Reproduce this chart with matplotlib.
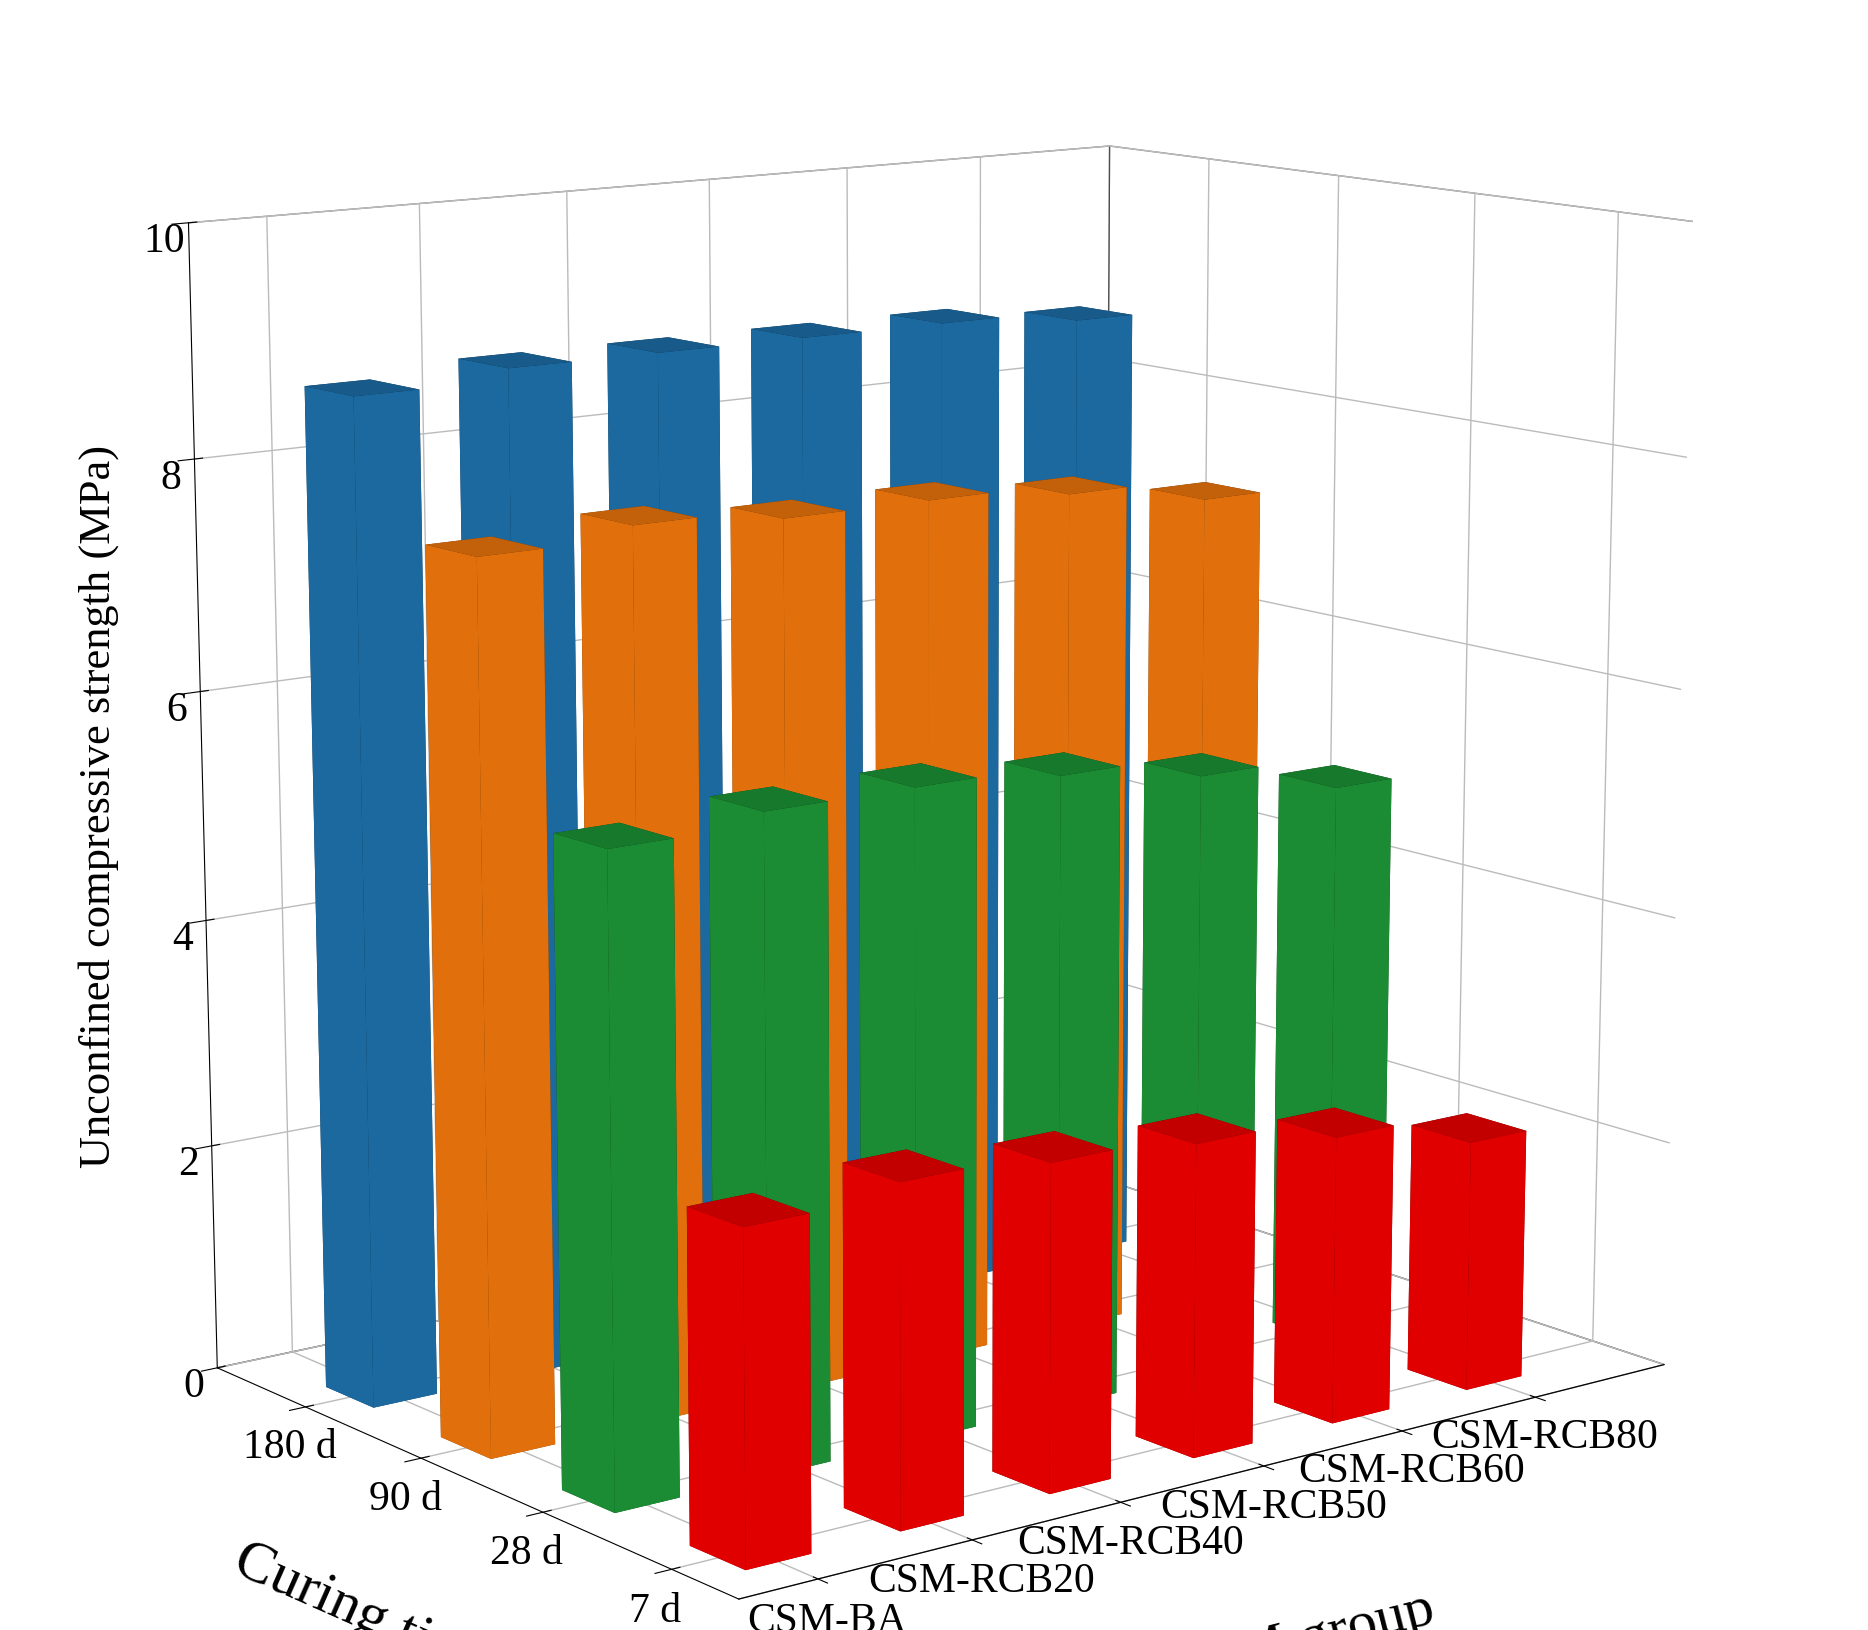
import matplotlib
matplotlib.use("Agg")
import matplotlib.pyplot as plt
import numpy as np

groups = ["CSM-BA", "CSM-RCB20", "CSM-RCB40", "CSM-RCB50", "CSM-RCB60", "CSM-RCB80"]
times = ["7 d", "28 d", "90 d", "180 d"]
ucs_7d = [2.8, 2.9, 2.8, 2.7, 2.5, 2.2]
ucs_28d = [5.5, 5.6, 5.6, 5.5, 5.3, 5.0]
ucs_90d = [7.6, 7.7, 7.6, 7.6, 7.5, 7.3]
ucs_180d = [8.7, 8.8, 8.8, 8.8, 8.8, 8.7]
values = [ucs_7d, ucs_28d, ucs_90d, ucs_180d]
colors = ["#ff0000", "#1e9e3a", "#ff7f0e", "#1f77b4"]

plt.rcParams['font.family'] = ['Liberation Serif', 'DejaVu Serif']
fig = plt.figure(figsize=(18.68, 16.3), dpi=100)
ax = fig.add_axes([-0.06, -0.1, 1.1, 1.18], projection='3d')
ax.set_proj_type('persp', focal_length=0.6)

w = 0.42
for j, vals in enumerate(values):
    for i, v in enumerate(vals):
        ax.bar3d(i - w/2, j - w/2, 0, w, w, v, color=colors[j], shade=True,
                 edgecolor='none')

ax.set_xlim(-0.5, 6.0)
ax.set_ylim(-0.5, 3.8)
ax.set_zlim(0, 10)
ax.set_xticks(range(6))
ax.set_xticklabels(groups, fontsize=30)
ax.set_yticks(range(4))
ax.set_yticklabels(times, fontsize=30)
ax.set_zticks([0, 2, 4, 6, 8, 10])
ax.tick_params(axis='z', labelsize=30)
ax.set_xlabel("CSM group", fontsize=42, labelpad=65)
ax.set_ylabel("Curing time", fontsize=42, labelpad=50)
ax.zaxis.set_rotate_label(False)
ax.set_zlabel("Unconfined compressive strength (MPa)", fontsize=32, labelpad=30, rotation=90)
for axis in (ax.xaxis, ax.yaxis, ax.zaxis):
    axis.pane.set_facecolor('white')
    axis.pane.set_edgecolor('black')
    axis._axinfo['grid']['color'] = '#bbbbbb'
    axis._axinfo['grid']['linewidth'] = 1.0
ax.view_init(elev=12, azim=-128)
ax.set_box_aspect((1.3, 1.0, 1.3), zoom=0.95)
fig.savefig("out.png", dpi=100, facecolor='white')
